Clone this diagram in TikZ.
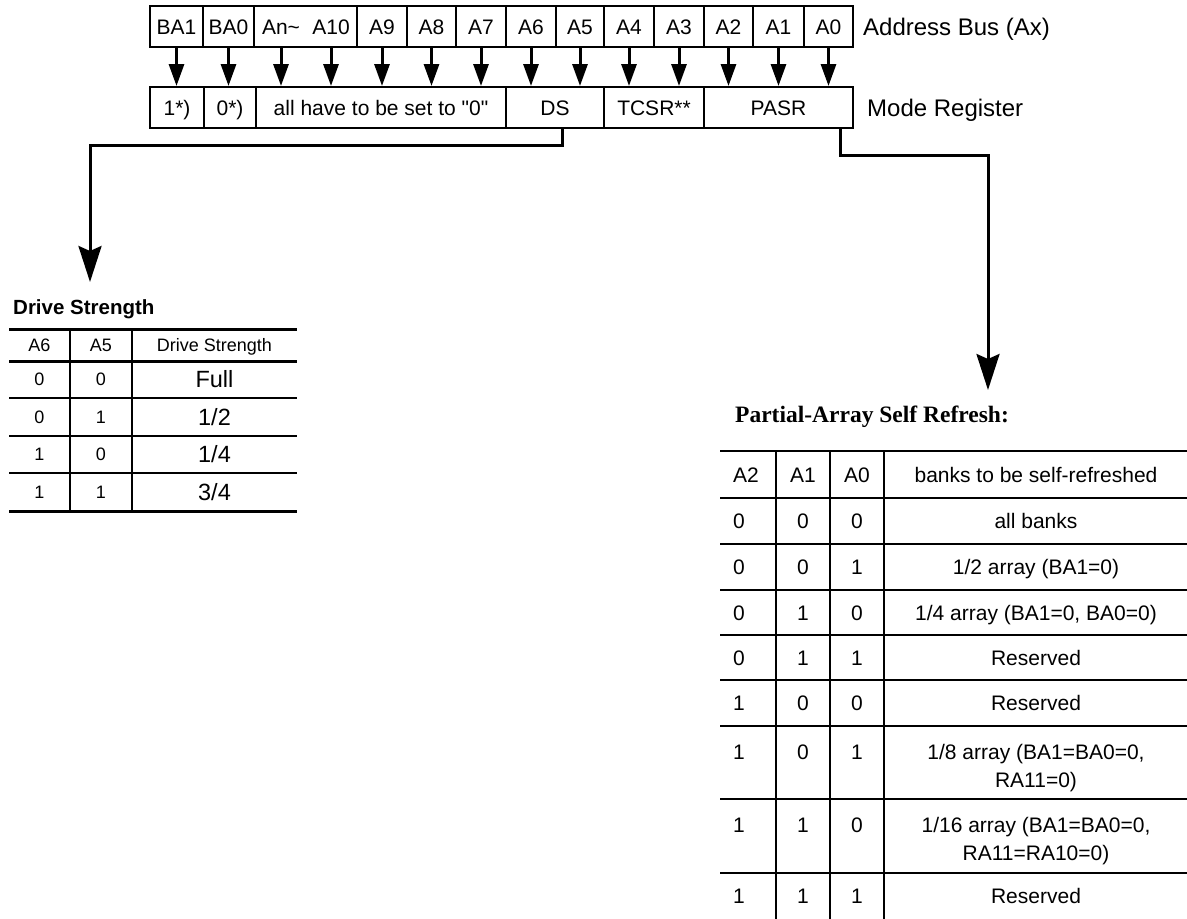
\documentclass[tikz,border=0pt]{standalone}
\usepackage{fontspec}
\setmainfont{Liberation Sans}
\newfontfamily\titleserif{Liberation Serif}
\usetikzlibrary{arrows.meta,calc}
\begin{document}
\begin{tikzpicture}[x=1pt,y=-1pt,
  cell/.style={draw,line width=2pt,minimum height=41pt,inner sep=0pt,text height=15pt,text depth=0pt,font=\fontsize{21}{24}\selectfont},
  celltxt/.style={inner sep=0pt,text height=15pt,text depth=0pt,font=\fontsize{21}{24}\selectfont},
  lbl/.style={inner sep=0pt,anchor=west,text height=17.2pt,text depth=0pt,font=\fontsize{24}{28}\selectfont},
  busarrow/.style={line width=3pt,-{Triangle[length=22pt,width=15pt]}},
  bigarrow/.style={line width=3pt,-{Stealth[length=36pt,width=23pt,inset=5pt]}},
  thickrule/.style={line width=3pt},
  thinrule/.style={line width=1.5pt},
  pthick/.style={line width=2.7pt},
  pthin/.style={line width=2pt},
  dstxt/.style={inner sep=0pt,text height=12.9pt,text depth=0pt,font=\fontsize{18}{21}\selectfont},
  dsval/.style={inner sep=0pt,text height=16.8pt,text depth=0pt,font=\fontsize{23.5}{27}\selectfont},
  ptxt/.style={inner sep=0pt,text height=15pt,text depth=0pt,font=\fontsize{21}{27}\selectfont},
  ptxtw/.style={ptxt,anchor=west},
  pmulti/.style={inner sep=0pt,align=center,font=\fontsize{21}{28}\selectfont},
]
\useasboundingbox (0,0) rectangle (1187,919);

% ---------- Address bus ----------
\node[cell,minimum width=53pt]  (ba1) at (176.5,26.5) {BA1};
\node[cell,minimum width=51pt]  (ba0) at (228.5,26.5) {BA0};
\node[cell,minimum width=103pt] (an)  at (305.5,26.5) {};
\node[celltxt] (tan)  at (281,26.5) {An\textasciitilde};
\node[celltxt] (ta10) at (331,26.5) {A10};
\node[cell,minimum width=50pt] (a9) at (382,26.5) {A9};
\node[cell,minimum width=49pt] (a8) at (431.5,26.5) {A8};
\node[cell,minimum width=50pt] (a7) at (481,26.5) {A7};
\node[cell,minimum width=50pt] (a6) at (531,26.5) {A6};
\node[cell,minimum width=48pt] (a5) at (580,26.5) {A5};
\node[cell,minimum width=50pt] (a4) at (629,26.5) {A4};
\node[cell,minimum width=50pt] (a3) at (679,26.5) {A3};
\node[cell,minimum width=49pt] (a2) at (728.5,26.5) {A2};
\node[cell,minimum width=51pt] (a1) at (778.5,26.5) {A1};
\node[cell,minimum width=49pt] (a0) at (828.5,26.5) {A0};
\node[lbl] (addr) at (863,26.5) {Address Bus (Ax)};

% ---------- Mode register ----------
\node[cell,minimum width=54pt]  (m1)    at (177,107.5) {1*)};
\node[cell,minimum width=52pt]  (m0)    at (230,107.5) {0*)};
\node[cell,minimum width=250pt] (mall)  at (381,107.5) {all have to be set to \textquotedbl 0\textquotedbl\hspace{14pt}};
\node[cell,minimum width=98pt]  (mds)   at (555,107.5) {DS};
\node[cell,minimum width=100pt] (mtcsr) at (654,107.5) {TCSR**};
\node[cell,minimum width=149pt] (mpasr) at (778.5,107.5) {PASR\hspace{10pt}};
\node[lbl] (mode) at (867,108) {Mode Register};

% ---------- bus arrows ----------
\foreach \n/\m in {ba1/m1,ba0/m0,a9/mall,a8/mall,a7/mall,a6/mds,a5/mds,a4/mtcsr,a3/mtcsr,a2/mpasr,a1/mpasr,a0/mpasr}
  \draw[busarrow] (\n.south) -- (\n.south |- \m.north);
\draw[busarrow] (tan |- an.south) -- (tan |- mall.north);
\draw[busarrow] (ta10 |- an.south) -- (ta10 |- mall.north);

% ---------- connectors to tables ----------
\coordinate (dstip) at (90,282);
\draw[bigarrow] ([xshift=7pt]mds.south) -- ++(0,16) -| (dstip);
\coordinate (pasrtip) at (988,390);
\draw[bigarrow] ([xshift=61.5pt]mpasr.south) -- ++(0,26) -| (pasrtip);

% ---------- Drive strength table ----------
\node[anchor=west,inner sep=0pt,text height=14.7pt,text depth=0pt,font=\bfseries\fontsize{20.5}{24}\selectfont] (dstitle) at (13,307) {Drive Strength};
\draw[thickrule] (9,329) -- (297,329);
\draw[thickrule] (9,361) -- (297,361);
\draw[thinrule]  (9,398) -- (297,398);
\draw[thinrule]  (9,436) -- (297,436);
\draw[thinrule]  (9,473) -- (297,473);
\draw[thickrule] (9,511) -- (297,511);
\draw[pthin] (70,329) -- (70,511);
\draw[pthin] (132,329) -- (132,511);
\node[dstxt] (dsh1) at (39.5,345) {A6};
\node[dstxt] (dsh2) at (101,345) {A5};
\node[dstxt] (dsh3) at (214.5,345) {Drive Strength};
\node[dstxt] (ds11) at (39.5,379.5) {0};
\node[dstxt] (ds12) at (101,379.5) {0};
\node[dsval] (ds13) at (214.5,379.5) {Full};
\node[dstxt] (ds21) at (39.5,417) {0};
\node[dstxt] (ds22) at (101,417) {1};
\node[dsval] (ds23) at (214.5,417) {1/2};
\node[dstxt] (ds31) at (39.5,454.5) {1};
\node[dstxt] (ds32) at (101,454.5) {0};
\node[dsval] (ds33) at (214.5,454.5) {1/4};
\node[dstxt] (ds41) at (39.5,492) {1};
\node[dstxt] (ds42) at (101,492) {1};
\node[dsval] (ds43) at (214.5,492) {3/4};

% ---------- PASR table ----------
\node[anchor=west,inner sep=0pt,text height=15.6pt,text depth=0pt,font=\titleserif\bfseries\fontsize{23.5}{28}\selectfont] (ptitle) at (735,415) {Partial-Array Self Refresh:};
\draw[pthick] (720,451) -- (1187,451);
\draw[pthick] (720,498) -- (1187,498);
\foreach \yy in {544,590,635,680,726,799,873}
  \draw[pthin] (720,\yy) -- (1187,\yy);
\foreach \xx in {776,830,884}
  \draw[pthin] (\xx,451) -- (\xx,919);
\node[ptxtw] (ph1) at (733,474.5) {A2};
\node[ptxt] (ph2) at (803,474.5) {A1};
\node[ptxt] (ph3) at (857,474.5) {A0};
\node[ptxt] (ph4) at (1036,474.5) {banks to be self-refreshed};

\node[ptxtw] (p11) at (733,521) {0};
\node[ptxt] (p12) at (803,521) {0};
\node[ptxt] (p13) at (857,521) {0};
\node[ptxt] (p14) at (1036,521) {all banks};

\node[ptxtw] (p21) at (733,567) {0};
\node[ptxt] (p22) at (803,567) {0};
\node[ptxt] (p23) at (857,567) {1};
\node[ptxt] (p24) at (1036,567) {1/2 array (BA1=0)};

\node[ptxtw] (p31) at (733,612.5) {0};
\node[ptxt] (p32) at (803,612.5) {1};
\node[ptxt] (p33) at (857,612.5) {0};
\node[ptxt] (p34) at (1036,612.5) {1/4 array (BA1=0, BA0=0)};

\node[ptxtw] (p41) at (733,657.5) {0};
\node[ptxt] (p42) at (803,657.5) {1};
\node[ptxt] (p43) at (857,657.5) {1};
\node[ptxt] (p44) at (1036,657.5) {Reserved};

\node[ptxtw] (p51) at (733,703) {1};
\node[ptxt] (p52) at (803,703) {0};
\node[ptxt] (p53) at (857,703) {0};
\node[ptxt] (p54) at (1036,703) {Reserved};

\node[ptxtw] (p61) at (733,752) {1};
\node[ptxt] (p62) at (803,752) {0};
\node[ptxt] (p63) at (857,752) {1};
\node[pmulti] (p64) at (1036,768) {1/8 array (BA1=BA0=0,\\RA11=0)};

\node[ptxtw] (p71) at (733,825) {1};
\node[ptxt] (p72) at (803,825) {1};
\node[ptxt] (p73) at (857,825) {0};
\node[pmulti] (p74) at (1036,841) {1/16 array (BA1=BA0=0,\\RA11=RA10=0)};

\node[ptxtw] (p81) at (733,896) {1};
\node[ptxt] (p82) at (803,896) {1};
\node[ptxt] (p83) at (857,896) {1};
\node[ptxt] (p84) at (1036,896) {Reserved};
\end{tikzpicture}
\end{document}
